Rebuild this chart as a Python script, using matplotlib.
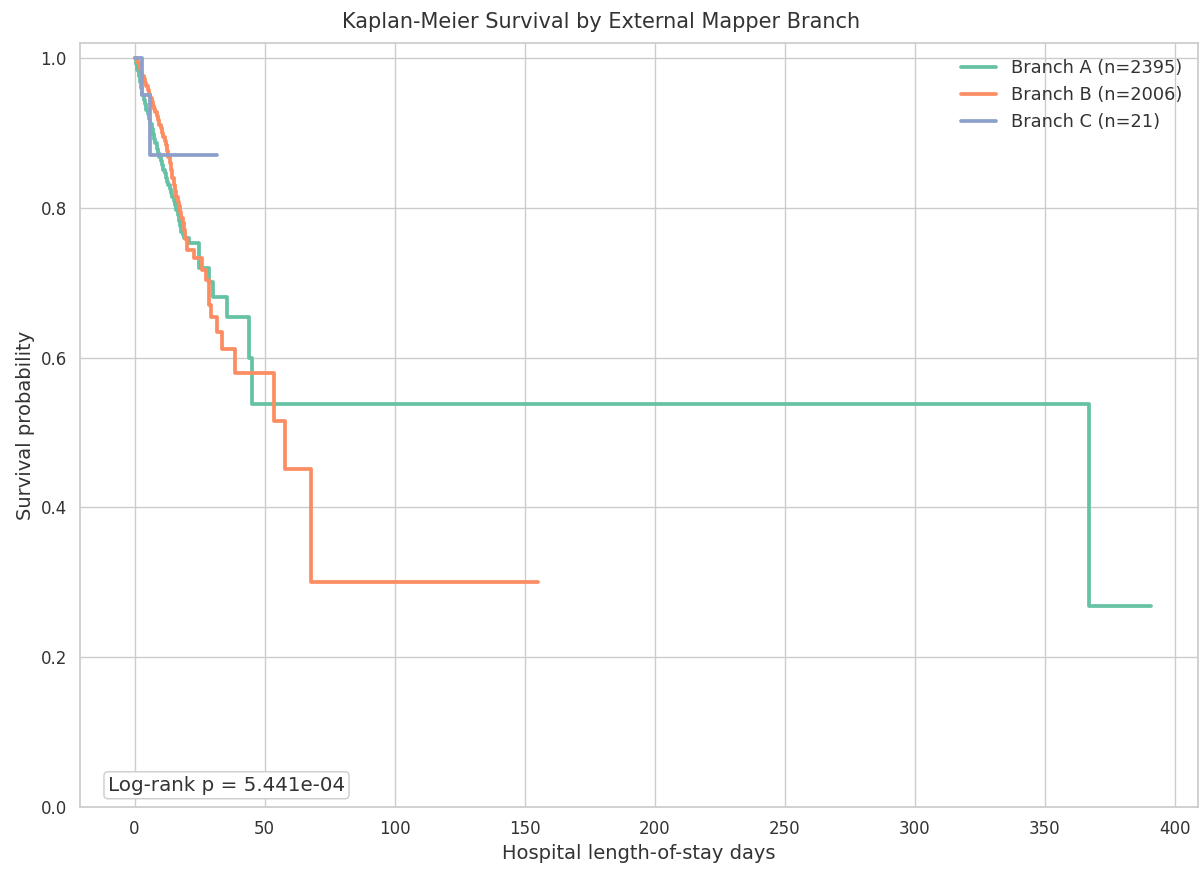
import numpy as np
import matplotlib
matplotlib.use('Agg')
import matplotlib.pyplot as plt
import seaborn as sns

sns.set_theme(style='whitegrid')
plt.rcParams['font.family'] = ['DejaVu Sans']

# Kaplan-Meier step values
a_time = [0, 0.5, 1, 1.5, 2, 2.5, 3, 3.5, 4, 4.5, 5, 5.5, 6, 6.5, 7, 7.5, 8, 8.5, 9, 9.5,
          10, 10.5, 11, 11.5, 12, 12.5, 13, 13.5, 14, 14.5, 15, 15.5, 16, 16.5, 17, 17.5,
          18, 18.5, 19, 21, 24.6, 28.8, 30, 35.4, 44, 45.3, 367, 391]
a_surv = [1.0, 0.992, 0.984, 0.976, 0.968, 0.960, 0.951, 0.944, 0.938, 0.931, 0.925,
          0.918, 0.912, 0.905, 0.899, 0.892, 0.886, 0.879, 0.873, 0.868, 0.862, 0.857,
          0.851, 0.846, 0.840, 0.835, 0.830, 0.825, 0.820, 0.814, 0.809, 0.804, 0.797,
          0.790, 0.783, 0.776, 0.768, 0.764, 0.760, 0.753, 0.72, 0.701, 0.681, 0.654,
          0.60, 0.538, 0.269, 0.269]

b_time = [0, 1, 1.5, 2, 2.5, 3, 3.5, 4, 4.5, 5, 5.5, 6, 6.5, 7, 7.5, 8, 8.5, 9, 9.5,
          10, 10.5, 11, 11.5, 12, 12.5, 13, 13.5, 14, 14.5, 15, 15.5, 16, 16.5, 17, 17.5,
          18, 18.5, 19, 19.5, 20, 23, 26, 27.5, 28.5, 29.5, 31.5, 33.5, 38.5, 53.8, 58,
          68, 155]
b_surv = [1.0, 0.995, 0.99, 0.985, 0.98, 0.976, 0.972, 0.967, 0.962, 0.957, 0.952,
          0.946, 0.941, 0.936, 0.932, 0.928, 0.922, 0.917, 0.911, 0.906, 0.900, 0.895,
          0.889, 0.884, 0.876, 0.868, 0.860, 0.850, 0.840, 0.830, 0.822, 0.815, 0.808,
          0.802, 0.795, 0.787, 0.780, 0.770, 0.758, 0.744, 0.733, 0.717, 0.704, 0.670,
          0.654, 0.634, 0.611, 0.579, 0.515, 0.451, 0.30, 0.30]

c_time = [0, 2.7, 6, 31.5]
c_surv = [1.0, 0.951, 0.871, 0.871]

labels = ['Branch A (n=2395)', 'Branch B (n=2006)', 'Branch C (n=21)']
p_value = 5.441e-04

colors = sns.color_palette('Set2', 3)

fig = plt.figure(figsize=(12.03, 8.72), dpi=100)
ax = fig.add_axes([80 / 1203, 1 - 807 / 872, 1118 / 1203, 764 / 872])

for t, s, lab, col in zip([a_time, b_time, c_time], [a_surv, b_surv, c_surv], labels, colors):
    ax.step(t, s, where='post', color=col, linewidth=2.7, label=lab)

ax.set_xlim(-21, 409)
ax.set_ylim(0, 1.02)
ax.set_xticks(np.arange(0, 401, 50))
ax.set_yticks(np.arange(0, 1.01, 0.2))
ax.tick_params(labelsize=12, colors='#333333')
ax.set_xlabel('Hospital length-of-stay days', fontsize=14, color='#333333')
ax.set_ylabel('Survival probability', fontsize=14, color='#333333')
fig.text(0.5, 1 - 22 / 872, 'Kaplan-Meier Survival by External Mapper Branch',
         fontsize=15, color='#333333', ha='center', va='center')
ax.legend(loc='upper right', frameon=False, fontsize=12.8, labelcolor='#333333')

ax.text(0.025, 0.016, f'Log-rank p = {p_value:.3e}', transform=ax.transAxes, fontsize=14.3,
        va='bottom', ha='left', color='#333333',
        bbox=dict(boxstyle='round,pad=0.2', facecolor='white', edgecolor='#cccccc'))

fig.savefig('out.png', dpi=100)
